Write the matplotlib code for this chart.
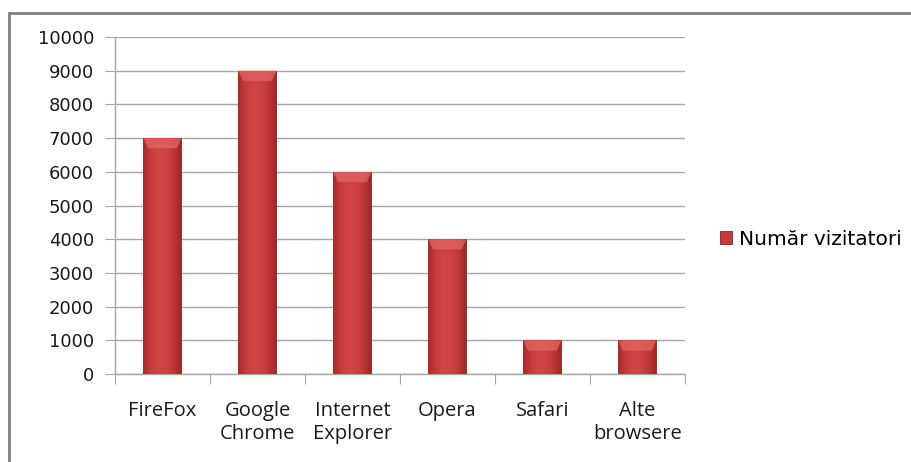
import numpy as np
import matplotlib
matplotlib.use("Agg")
import matplotlib.pyplot as plt
from matplotlib.colors import LinearSegmentedColormap
from matplotlib.patches import Rectangle, Polygon

browsers = ["FireFox", "Google\nChrome", "Internet\nExplorer", "Opera", "Safari", "Alte\nbrowsere"]
visitors = [7000, 9000, 6000, 4000, 1000, 1000]
series_name = "Număr vizitatori"
yticks = list(range(0, 10001, 1000))

plt.rcParams['font.family'] = ['DejaVu Sans']

fig = plt.figure(figsize=(9.12, 4.62), dpi=100)
ax = fig.add_axes([0.126, 0.19, 0.625, 0.73])

x = np.arange(len(browsers))
bars = ax.bar(x, visitors, width=0.4, color="#C83A3A", edgecolor="#8E2222",
              linewidth=0.6, zorder=3, label=series_name)

# soft cylinder-like shading across each bar
shade = LinearSegmentedColormap.from_list(
    "shade", ["#A82A2A", "#C83B3B", "#D24444", "#CF4242", "#C23838", "#A02727"])
grad = np.linspace(0, 1, 64).reshape(1, -1)
for b in bars:
    x0, w, h = b.get_x(), b.get_width(), b.get_height()
    im = ax.imshow(grad, cmap=shade, aspect="auto", zorder=3.5,
                   extent=(x0, x0 + w, 0, h), origin="lower", interpolation="bilinear")
    im.set_clip_path(b)
    # lighter bevel on top
    bev = 300
    ax.add_patch(Polygon([(x0, h), (x0 + w, h), (x0 + w * 0.88, h - bev), (x0 + w * 0.12, h - bev)],
                         closed=True, facecolor="#E46565", edgecolor="none", alpha=0.75, zorder=4))

ax.set_xlim(-0.5, len(browsers) - 0.5)
ax.set_ylim(0, 10000)
ax.set_yticks(yticks)
ax.set_yticklabels([str(v) for v in yticks], fontsize=13, color="#1A1A1A")
ax.yaxis.grid(True, color="#A6A6A6", linewidth=1.0, zorder=0)
ax.tick_params(axis="y", length=7, color="#A6A6A6", pad=8)

ax.set_xticks(np.arange(-0.5, len(browsers), 1.0))
ax.set_xticklabels([])
ax.set_xticks(x, minor=True)
ax.set_xticklabels(browsers, minor=True, fontsize=14.5, linespacing=1.22,
                   family=["Open Sans", "DejaVu Sans"], va="top", color="#1A1A1A")
ax.tick_params(axis="x", which="major", length=7, color="#A6A6A6")
ax.tick_params(axis="x", which="minor", length=0, pad=19)

for s in ["top", "right"]:
    ax.spines[s].set_visible(False)
for s in ["left", "bottom"]:
    ax.spines[s].set_color("#A6A6A6")
    ax.spines[s].set_linewidth(1.0)

ax.legend(loc="center left", bbox_to_anchor=(1.03, 0.40), frameon=False,
          fontsize=14.5, handlelength=0.6, handleheight=0.6, handletextpad=0.35)

# outer chart border (only top and left visible in the crop)
fig.patches.append(Rectangle((9 / 912, -0.1), 1.2, 1.1 - 13 / 462,
                             transform=fig.transFigure, fill=False,
                             edgecolor="#808080", linewidth=2.0))

fig.savefig("out.png", dpi=100)
